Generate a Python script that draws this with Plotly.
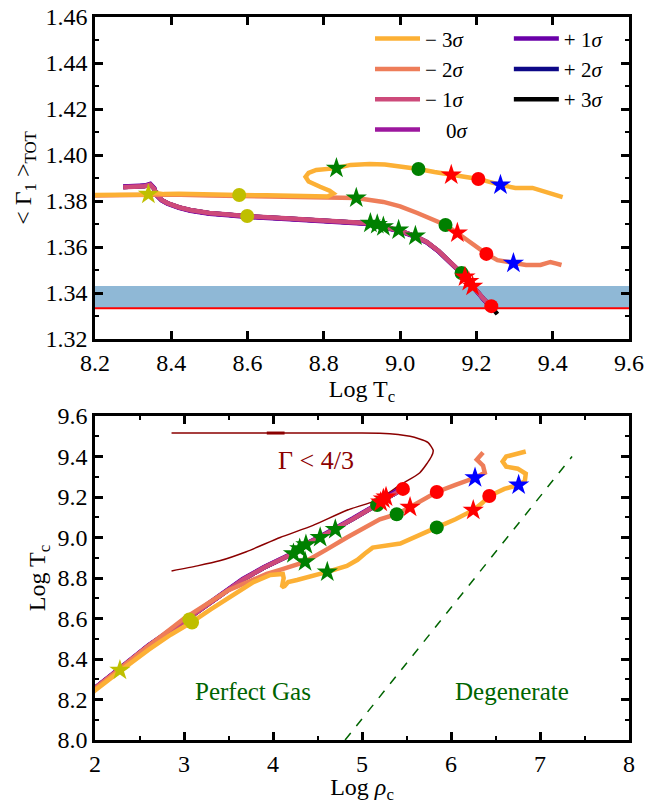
import plotly.graph_objects as go

# ---------------- data: top panel (Log Tc, <Gamma1>_TOT) ----------------
TC_M3 = [8.2, 8.3, 8.34, 8.36, 8.38, 8.42, 8.46, 8.5, 8.578, 8.65, 8.72, 8.79, 8.81, 8.825, 8.815,
         8.79, 8.76, 8.752, 8.76, 8.78, 8.833, 8.87, 8.92, 8.96, 9.0, 9.048, 9.09, 9.134, 9.17,
         9.205, 9.263, 9.302, 9.347, 9.39, 9.426]
G_M3 = [1.3826, 1.3827, 1.3828, 1.3835, 1.3830, 1.3832, 1.3830, 1.3826, 1.3826, 1.3825, 1.3822,
        1.3818, 1.3820, 1.3833, 1.3845, 1.3862, 1.3885, 1.3905, 1.3922, 1.3935, 1.3943, 1.3957,
        1.3961, 1.3959, 1.3952, 1.3939, 1.3926, 1.3913, 1.3903, 1.3896, 1.3870, 1.3857, 1.3857,
        1.3835, 1.3817]

TC_M2 = [8.2, 8.34, 8.4, 8.5, 8.6, 8.7, 8.8, 8.885, 8.956, 9.0, 9.045, 9.08, 9.119, 9.15, 9.19,
         9.226, 9.255, 9.297, 9.33, 9.368, 9.394, 9.41, 9.423]
G_M2 = [1.3824, 1.3826, 1.3828, 1.3824, 1.3822, 1.3818, 1.3814, 1.3813, 1.3796, 1.3777, 1.3748,
        1.3725, 1.3696, 1.3661, 1.3610, 1.3570, 1.3543, 1.3530, 1.3522, 1.3522, 1.3535, 1.3528,
        1.3522]

TC_MAIN = [8.274, 8.30, 8.33, 8.345, 8.355, 8.362, 8.375, 8.39, 8.42, 8.45, 8.50, 8.55, 8.60,
           8.70, 8.80, 8.87, 8.92, 8.96, 9.00, 9.04, 9.07, 9.10, 9.13, 9.16, 9.18, 9.20, 9.22,
           9.24, 9.248]
G_M1 = [1.3860, 1.3862, 1.3864, 1.3871, 1.3853, 1.3826, 1.3805, 1.3791, 1.3773, 1.3761, 1.3748,
        1.3741, 1.3734, 1.3725, 1.3716, 1.3711, 1.3703, 1.3687, 1.3671, 1.3647, 1.3622, 1.3584,
        1.3539, 1.3489, 1.3451, 1.3411, 1.3372, 1.3339, 1.3322]
G_0 = [1.3861, 1.3863, 1.3865, 1.3872, 1.3854, 1.3825, 1.3804, 1.3790, 1.3772, 1.3760, 1.3747,
       1.3740, 1.3733, 1.3724, 1.3715, 1.3710, 1.3702, 1.3686, 1.3670, 1.3646, 1.3621, 1.3583,
       1.3538, 1.3488, 1.3450, 1.3410, 1.3371, 1.3338, 1.3321]
G_P1 = [1.3863, 1.3865, 1.3867, 1.3875, 1.3857, 1.3824, 1.3802, 1.3788, 1.3770, 1.3758, 1.3745,
        1.3738, 1.3731, 1.3722, 1.3713, 1.3708, 1.3700, 1.3684, 1.3668, 1.3644, 1.3620, 1.3582,
        1.3537, 1.3487, 1.3449, 1.3409, 1.3370, 1.3337, 1.3320]
TC_P3 = TC_MAIN + [9.255]
G_P3 = G_0 + [1.3308]

GAMMA_CRIT = 4 / 3
BAND_TOP = 1.343

# ---------------- data: bottom panel (Log rho_c, Log Tc) ----------------
RHO_M3 = [1.95, 2.0, 2.28, 2.6, 2.85, 3.08, 3.3, 3.52, 3.78, 3.97, 4.11, 4.12, 4.10, 4.13, 4.17,
          4.27, 4.45, 4.61, 4.83, 4.95, 5.03, 5.12, 5.43, 5.65, 5.84, 6.05, 6.25, 6.35, 6.43, 6.6,
          6.76, 6.83, 6.84, 6.75, 6.62, 6.58, 6.62, 6.84]
T_M3 = [8.225, 8.245, 8.34, 8.445, 8.52, 8.58, 8.645, 8.706, 8.78, 8.815, 8.82, 8.80, 8.755,
        8.76, 8.78, 8.79, 8.81, 8.83, 8.86, 8.89, 8.92, 8.95, 8.97, 9.01, 9.05, 9.09, 9.135,
        9.17, 9.205, 9.24, 9.26, 9.28, 9.315, 9.34, 9.35, 9.375, 9.40, 9.425]

RHO_M2 = [1.95, 2.0, 2.5, 3.0, 3.5, 3.93, 4.08, 4.36, 4.6, 4.83, 5.2, 5.39, 5.54, 5.7, 5.84,
          6.05, 6.27, 6.38, 6.36, 6.29, 6.36]
T_M2 = [8.235, 8.252, 8.43, 8.60, 8.74, 8.82, 8.84, 8.88, 8.94, 9.0, 9.09, 9.115, 9.15, 9.19,
        9.225, 9.26, 9.295, 9.32, 9.355, 9.385, 9.42]

RHO_MAIN = [1.95, 2.0, 2.28, 2.6, 3.05, 3.21, 3.45, 3.66, 3.9, 4.1, 4.23, 4.30, 4.37, 4.53, 4.70,
            4.9, 5.17, 5.24, 5.35, 5.46, 5.5]
T_MAIN = [8.237, 8.256, 8.352, 8.465, 8.602, 8.652, 8.722, 8.792, 8.852, 8.892, 8.922, 8.947,
          8.967, 9.002, 9.042, 9.092, 9.162, 9.187, 9.212, 9.242, 9.252]
T_P1 = [8.239, 8.258, 8.355, 8.468, 8.605, 8.655, 8.725, 8.795, 8.855, 8.895, 8.925, 8.95,
        8.97, 9.005, 9.045, 9.095, 9.165, 9.192, 9.22, 9.25, 9.26]

RHO_GAMMA_BOUND = [2.86, 3.15, 3.40, 3.70, 4.08, 4.45, 4.83, 5.17, 5.43, 5.65, 5.78, 5.80, 5.74,
                   5.54, 5.20, 4.865, 2.86]
T_GAMMA_BOUND = [8.835, 8.86, 8.885, 8.93, 9.0, 9.06, 9.135, 9.185, 9.26, 9.32, 9.40, 9.43, 9.47,
                 9.50, 9.515, 9.516, 9.516]
RHO_GAMMA_THICK = [3.93, 4.13]
T_GAMMA_THICK = [9.516, 9.516]

RHO_DEGEN = [4.81, 7.36]
T_DEGEN = [8.0, 9.40]

# ---------------- markers (top: Tc, Gamma ; bottom: rho, Tc) ----------------
MARKERS = {
    "ystar": dict(tc=[8.34], g=[1.3830], rho=[2.28], t=[8.345]),
    "ycirc": dict(tc=[8.578, 8.599], g=[1.3826, 1.3735], rho=[3.06, 3.09], t=[8.595, 8.58]),
    "gstar": dict(tc=[8.833, 8.885, 8.922, 8.94, 8.956, 8.996, 9.04],
                  g=[1.3943, 1.3813, 1.3704, 1.3698, 1.3688, 1.3674, 1.3648],
                  rho=[4.61, 4.36, 4.23, 4.30, 4.37, 4.53, 4.70],
                  t=[8.83, 8.88, 8.92, 8.945, 8.965, 9.0, 9.04]),
    "gcirc": dict(tc=[9.048, 9.119, 9.161], g=[1.3939, 1.3696, 1.3487],
                  rho=[5.84, 5.39, 5.17], t=[9.05, 9.115, 9.16]),
    "rstar": dict(tc=[9.134, 9.15, 9.17, 9.18, 9.19], g=[1.3913, 1.3661, 1.3470, 1.3450, 1.3430],
                  rho=[6.25, 5.54, 5.21, 5.24, 5.27], t=[9.135, 9.15, 9.175, 9.19, 9.20]),
    "rcirc": dict(tc=[9.205, 9.226, 9.239], g=[1.3896, 1.3570, 1.3343],
                  rho=[6.43, 5.84, 5.46], t=[9.205, 9.225, 9.24]),
    "bstar": dict(tc=[9.263, 9.297], g=[1.3870, 1.3530], rho=[6.76, 6.27], t=[9.26, 9.295]),
}
MARKER_STYLE = {
    "ystar": ("star", "#bfbf00", 16), "ycirc": ("circle", "#bfbf00", 14),
    "gstar": ("star", "#008000", 16), "gcirc": ("circle", "#008000", 14),
    "rstar": ("star", "#ff0000", 16), "rcirc": ("circle", "#ff0000", 14),
    "bstar": ("star", "#0000ff", 16),
}

SERIES = [  # drawn in this order (last on top)
    ("+ 3<i>σ</i>", "black", TC_P3, G_P3, RHO_MAIN, T_MAIN, "legend2", 3),
    ("+ 2<i>σ</i>", "#0d0887", TC_MAIN, G_0, RHO_MAIN, T_MAIN, "legend2", 2),
    ("+ 1<i>σ</i>", "#6a00a8", TC_MAIN, G_P1, RHO_MAIN, T_P1, "legend2", 1),
    ("\u2002\u20020<i>σ</i>", "#9c179e", TC_MAIN, G_0, RHO_MAIN, T_MAIN, "legend", 4),
    ("− 1<i>σ</i>", "#cd4a7a", TC_MAIN, G_M1, RHO_MAIN, T_MAIN, "legend", 3),
    ("− 2<i>σ</i>", "#ee7d59", TC_M2, G_M2, RHO_M2, T_M2, "legend", 2),
    ("− 3<i>σ</i>", "#fcb035", TC_M3, G_M3, RHO_M3, T_M3, "legend", 1),
]

SERIF = "Liberation Serif"
fig = go.Figure()

# Gamma < 4/3 boundary (bottom)
fig.add_trace(go.Scatter(x=RHO_GAMMA_BOUND, y=T_GAMMA_BOUND, mode="lines",
                         line=dict(color="#8b0000", width=1.5, shape="spline", smoothing=0.6),
                         showlegend=False, xaxis="x2", yaxis="y2"))
fig.add_trace(go.Scatter(x=RHO_GAMMA_THICK, y=T_GAMMA_THICK, mode="lines",
                         line=dict(color="#8b0000", width=3), showlegend=False,
                         xaxis="x2", yaxis="y2"))
fig.add_trace(go.Scatter(x=RHO_DEGEN, y=T_DEGEN, mode="lines",
                         line=dict(color="#006400", width=1.5, dash="dash"), showlegend=False,
                         xaxis="x2", yaxis="y2"))

for name, col, tcx, gy, rx, ty, leg, rank in SERIES:
    fig.add_trace(go.Scatter(x=tcx, y=gy, mode="lines", name=name,
                             line=dict(color=col, width=4.5), legend=leg, legendrank=rank,
                             xaxis="x", yaxis="y"))
    fig.add_trace(go.Scatter(x=rx, y=ty, mode="lines", line=dict(color=col, width=4.5),
                             showlegend=False, xaxis="x2", yaxis="y2"))

for key, m in MARKERS.items():
    sym, col, sz = MARKER_STYLE[key]
    fig.add_trace(go.Scatter(x=m["tc"], y=m["g"], mode="markers", showlegend=False,
                             marker=dict(symbol=sym, color=col, size=sz, line=dict(width=0)),
                             xaxis="x", yaxis="y"))
    fig.add_trace(go.Scatter(x=m["rho"], y=m["t"], mode="markers", showlegend=False,
                             marker=dict(symbol=sym, color=col, size=sz, line=dict(width=0)),
                             xaxis="x2", yaxis="y2"))

# band + 4/3 line in top panel
fig.add_shape(type="rect", xref="x domain", yref="y", x0=0, x1=1, y0=GAMMA_CRIT, y1=BAND_TOP,
              fillcolor="#8fb8d6", line=dict(width=0), layer="below")
fig.add_shape(type="line", xref="x domain", yref="y", x0=0, x1=1, y0=GAMMA_CRIT, y1=GAMMA_CRIT,
              line=dict(color="#ff0000", width=2))

tickfont = dict(family=SERIF, size=24, color="black")
titlefont = dict(family=SERIF, size=24, color="black")
common = dict(showline=True, linecolor="black", linewidth=2.5, mirror="ticks", ticks="inside",
              ticklen=8, tickwidth=2.5, tickcolor="black", showgrid=False, zeroline=False,
              tickfont=tickfont, automargin=False)

legfont = dict(family=SERIF, size=21, color="black")

fig.update_layout(
    width=646, height=804,
    margin=dict(l=95, r=17, t=17, b=64),
    paper_bgcolor="white", plot_bgcolor="white",
    font=dict(family=SERIF, color="black", size=22),
    xaxis=dict(range=[8.2, 9.6], dtick=0.2, tick0=8.2, tickformat=".1f", anchor="y",
               title=dict(text="Log T<sub>c</sub>", font=titlefont, standoff=4),
               **common),
    yaxis=dict(range=[1.32, 1.46], dtick=0.02, tickformat=".2f", domain=[0.5546, 1.0], anchor="x",
               minor=dict(ticks="inside", dtick=0.01, ticklen=4, tickwidth=2, tickcolor="black"),
               title=dict(text="< Γ<sub>1</sub> ><sub>TOT</sub>", font=titlefont, standoff=8),
               **common),
    xaxis2=dict(range=[2, 8], dtick=1, anchor="y2",
                minor=dict(ticks="inside", dtick=0.5, ticklen=4, tickwidth=2, tickcolor="black"),
                title=dict(text="Log <i>ρ</i><sub>c</sub>", font=titlefont, standoff=4),
                **common),
    yaxis2=dict(range=[8.0, 9.6], dtick=0.2, tickformat=".1f", domain=[0.0, 0.4481], anchor="x2",
                minor=dict(ticks="inside", dtick=0.1, ticklen=4, tickwidth=2, tickcolor="black"),
                title=dict(text="Log T<sub>c</sub>", font=titlefont, standoff=6),
                **common),
    legend=dict(x=0.515, y=0.998, xanchor="left", yanchor="top", bgcolor="rgba(0,0,0,0)",
                font=legfont, tracegroupgap=0, itemwidth=45),
    legend2=dict(x=0.775, y=0.998, xanchor="left", yanchor="top", bgcolor="rgba(0,0,0,0)",
                 font=legfont, tracegroupgap=0, itemwidth=45),
    annotations=[
        dict(text="Γ < 4/3", x=4.48, y=9.38, xref="x2", yref="y2", showarrow=False,
             font=dict(family=SERIF, size=26, color="#8b0000")),
        dict(text="Perfect Gas", x=3.77, y=8.24, xref="x2", yref="y2", showarrow=False,
             font=dict(family=SERIF, size=25, color="#006400")),
        dict(text="Degenerate", x=6.68, y=8.24, xref="x2", yref="y2", showarrow=False,
             font=dict(family=SERIF, size=25, color="#006400")),
    ],
)

fig.write_html("out.html")
